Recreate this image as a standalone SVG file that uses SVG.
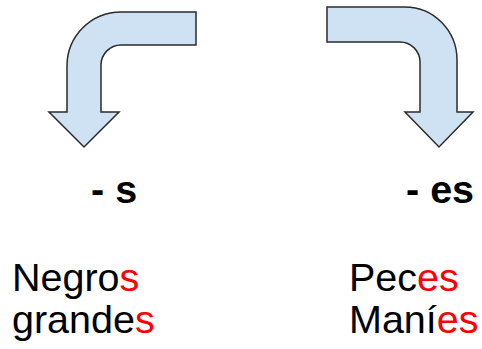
<svg xmlns="http://www.w3.org/2000/svg" width="482" height="349" viewBox="0 0 482 349">
<style>
.arrow{fill:#cfe2f3;stroke:#2b2b2b;stroke-width:1.5;stroke-linejoin:miter}
.t{font-family:"Liberation Sans",Arial,sans-serif;font-size:39.5px;fill:#000}
.b{font-weight:bold}
.r{fill:#ff0000}
</style>
<rect width="482" height="349" fill="#fff"/>
<g id="arrow-left">
<path class="arrow" d="M196,12 L121,12 A54,54 0 0 0 67,66 L67,112 L49,112 L84,147 L119,112 L101,112 L101,65 A20,20 0 0 1 121,45 L196,45 Z"/>
</g>
<g id="arrow-right">
<path class="arrow" d="M327,7 L405,7 A52,53 0 0 1 457,60 L457,112 L473,112 L439,147 L405,112 L420,112 L420,62 A20,20 0 0 0 400,42 L327,42 Z"/>
</g>
<g id="label-s">
<text class="t b" x="91" y="203">- s</text>
</g>
<g id="label-es">
<text class="t b" x="406" y="203">- es</text>
</g>
<g id="words-s">
<text class="t" x="12" y="291">Negro<tspan class="r">s</tspan></text>
<text class="t" x="12" y="333">grande<tspan class="r">s</tspan></text>
</g>
<g id="words-es">
<text class="t" x="349" y="291">Pec<tspan class="r">es</tspan></text>
<text class="t" x="349" y="333">Maní<tspan class="r">es</tspan></text>
</g>
<g id="connectors"/>
</svg>
